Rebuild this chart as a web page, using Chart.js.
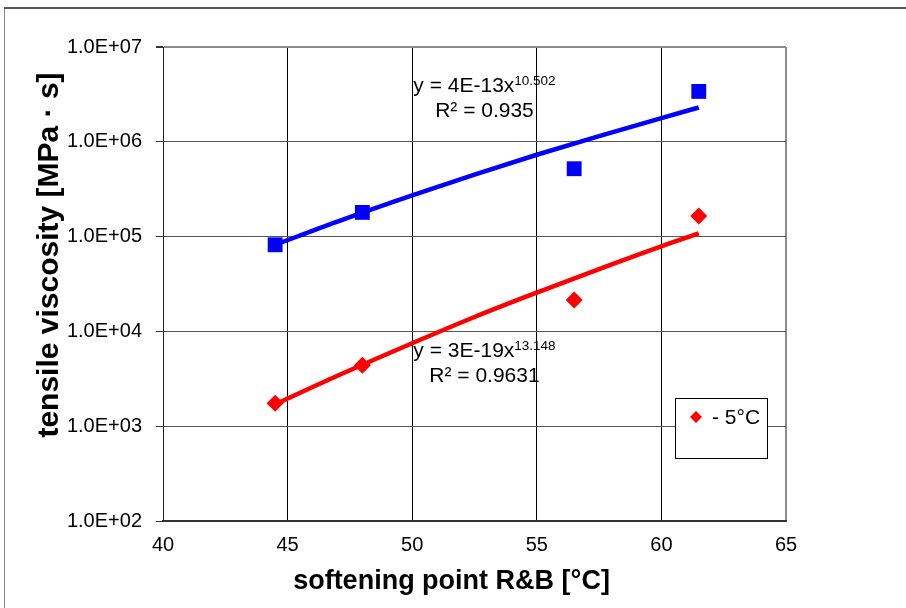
<!DOCTYPE html>
<html>
<head>
<meta charset="utf-8">
<script src="https://cdn.jsdelivr.net/npm/chart.js@4"></script>
<style>
  html, body { margin:0; padding:0; background:#fff; }
  #wrap { width:906px; height:608px; position:relative; }
</style>
</head>
<body>
<div id="wrap"><canvas id="chart"></canvas></div>
<script>
// measured points: softening point vs tensile viscosity
var softPoint = [44.5, 48, 56.5, 61.5];
var viscBlue = [8.2e4, 1.8e5, 5.2e5, 3.4e6];
var viscRed = [1.75e3, 4.4e3, 2.15e4, 1.65e5];

// power trend lines
var trendX = [44.5, 47, 50, 52.5, 55, 57.5, 60, 61.5];
var trendBlue = [8.2e4, 1.44e5, 2.72e5, 4.5e5, 7.3e5, 1.15e6, 1.78e6, 2.3e6];
var trendRed = [1.7e3, 3.4e3, 7.5e3, 1.42e4, 2.57e4, 4.55e4, 7.9e4, 1.08e5];

var xTicks = [40, 45, 50, 55, 60, 65];
var yTicks = [1e2, 1e3, 1e4, 1e5, 1e6, 1e7];

var legendLabel = "- 5°C";
var eqBlue = ["y = 4E-13x", "10.502", "R² = 0.935"];
var eqRed = ["y = 3E-19x", "13.148", "R² = 0.9631"];
var xTitle = "softening point R&B [°C]";
var yTitle = "tensile viscosity [MPa · s]";

var FONT = "'Liberation Sans', Arial, sans-serif";

function toPoints(xs, ys){
  var out = [];
  for (var i = 0; i < xs.length; i++){
    out.push({x: xs[i], y: ys[i]});
  }
  return out;
}

function sci(v){
  var e = Math.round(Math.log10(v));
  var m = v / Math.pow(10, e);
  var ae = Math.abs(e);
  return m.toFixed(1) + "E" + (e < 0 ? "-" : "+") + (ae < 10 ? "0" : "") + ae;
}

function drawEq(c, lines, cx, by){
  c.font = "21px " + FONT;
  var w1 = c.measureText(lines[0]).width;
  c.font = "13.5px " + FONT;
  var w2 = c.measureText(lines[1]).width;
  var start = cx - (w1 + w2) / 2;
  c.textAlign = "left";
  c.textBaseline = "alphabetic";
  c.font = "21px " + FONT;
  c.fillText(lines[0], start, by);
  c.font = "13.5px " + FONT;
  c.fillText(lines[1], start + w1, by - 7);
  c.font = "21px " + FONT;
  c.textAlign = "center";
  c.fillText(lines[2], cx, by + 25);
}

var decor = {
  id: "decor",
  afterDraw: function(chart){
    var c = chart.ctx, a = chart.chartArea;
    var xs = chart.scales.x, ys = chart.scales.y;
    c.save();

    // outer frame (only top and left are visible)
    c.lineWidth = 1;
    c.strokeStyle = "#888";
    c.beginPath(); c.moveTo(4.5, 608); c.lineTo(4.5, 8); c.stroke();
    c.strokeStyle = "#222";
    c.lineWidth = 1.5;
    c.beginPath(); c.moveTo(4, 8); c.lineTo(906, 8); c.stroke();

    // axis titles
    c.fillStyle = "#000";
    c.font = "bold 27px " + FONT;
    c.textAlign = "center";
    c.textBaseline = "middle";
    c.fillText(xTitle, (a.left + a.right) / 2 - 23, a.bottom + 61);
    c.save();
    c.translate(50, (a.top + a.bottom) / 2 - 29);
    c.rotate(-Math.PI / 2);
    c.font = "bold 30px " + FONT;
    c.fillText(yTitle, 0, 0);
    c.restore();

    // trend equations
    c.fillStyle = "#000";
    drawEq(c, eqBlue, xs.getPixelForValue(52.9), ys.getPixelForValue(3.35e6));
    drawEq(c, eqRed, xs.getPixelForValue(52.9), ys.getPixelForValue(5.4e3));

    // legend box
    var lx = a.right - 111, ly = a.top + 351;
    c.fillStyle = "#fff";
    c.fillRect(lx, ly, 92, 60);
    c.strokeStyle = "#000";
    c.lineWidth = 1;
    c.strokeRect(lx + 0.5, ly + 0.5, 92, 60);
    c.fillStyle = "#ff0000";
    c.beginPath();
    c.moveTo(lx + 21, ly + 13);
    c.lineTo(lx + 27, ly + 19);
    c.lineTo(lx + 21, ly + 25);
    c.lineTo(lx + 15, ly + 19);
    c.closePath();
    c.fill();
    c.fillStyle = "#000";
    c.font = "21px " + FONT;
    c.textAlign = "left";
    c.textBaseline = "middle";
    c.fillText(legendLabel, lx + 37, ly + 20);

    c.restore();
  }
};

var ctx = document.getElementById("chart");
var chart = new Chart(ctx, {
  type: "scatter",
  data: {
    datasets: [
      {
        label: "trend blue",
        data: toPoints(trendX, trendBlue),
        showLine: true,
        borderColor: "#0000ff",
        borderWidth: 4.5,
        pointRadius: 0,
        fill: false,
        cubicInterpolationMode: "monotone",
        order: 3
      },
      {
        label: "trend red",
        data: toPoints(trendX, trendRed),
        showLine: true,
        borderColor: "#ff0000",
        borderWidth: 4.5,
        pointRadius: 0,
        fill: false,
        cubicInterpolationMode: "monotone",
        order: 3
      },
      {
        label: "blue",
        data: toPoints(softPoint, viscBlue),
        pointStyle: "rect",
        pointRadius: 10.5,
        backgroundColor: "#0000ff",
        borderColor: "#0000ff",
        borderWidth: 0,
        order: 1
      },
      {
        label: legendLabel,
        data: toPoints(softPoint, viscRed),
        pointStyle: "rectRot",
        pointRadius: 8.5,
        backgroundColor: "#ff0000",
        borderColor: "#ff0000",
        borderWidth: 0,
        order: 1
      }
    ]
  },
  options: {
    responsive: true,
    maintainAspectRatio: false,
    animation: false,
    layout: { padding: { left: 0, top: 47, right: 120, bottom: 0 } },
    plugins: {
      legend: { display: false },
      tooltip: { enabled: false }
    },
    scales: {
      x: {
        type: "linear",
        min: 40,
        max: 65,
        afterBuildTicks: function(s){ s.ticks = xTicks.map(function(v){ return {value: v}; }); },
        afterFit: function(s){ s.height = 87; },
        grid: {
          color: function(c){ return c.tick && c.tick.value === 65 ? "#8c8c8c" : "#000"; },
          lineWidth: function(c){ return c.tick && c.tick.value === 65 ? 2 : 1; },
          drawTicks: false
        },
        border: { color: "#333", width: 2 },
        ticks: {
          color: "#000",
          padding: 12,
          maxRotation: 0,
          font: { family: FONT, size: 20 }
        }
      },
      y: {
        type: "logarithmic",
        min: 1e2,
        max: 1e7,
        afterBuildTicks: function(s){ s.ticks = yTicks.map(function(v){ return {value: v}; }); },
        afterFit: function(s){ s.width = 163; },
        grid: {
          color: function(c){ return c.tick && c.tick.value === 1e7 ? "#8c8c8c" : "#555"; },
          lineWidth: function(c){ return c.tick && c.tick.value === 1e7 ? 2 : 1; },
          tickLength: 7,
          tickColor: "#333"
        },
        border: { color: "#222", width: 1 },
        ticks: {
          color: "#000",
          padding: 14,
          font: { family: FONT, size: 20 },
          callback: function(v){ return sci(v); }
        }
      }
    }
  },
  plugins: [decor]
});
</script>
</body>
</html>
